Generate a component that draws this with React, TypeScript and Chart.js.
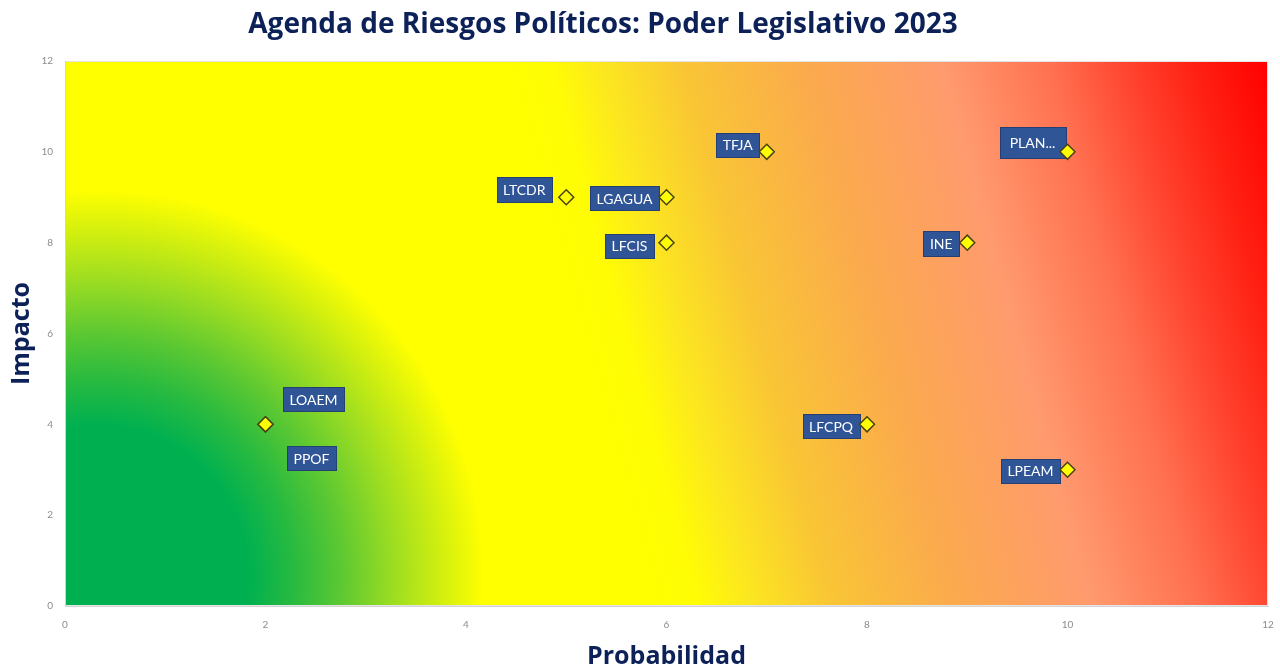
import React, { useEffect, useRef } from "react";
import { Chart, registerables } from "chart.js";

Chart.register(...registerables);

// ---- Data ----
const pointLabels = ["LOAEM", "PPOF", "LTCDR", "LGAGUA", "LFCIS", "TFJA", "PLAN...", "INE", "LFCPQ", "LPEAM"];
const probabilidad = [2, 2, 5, 6, 6, 7, 10, 9, 8, 10];
const impacto = [4, 4, 9, 9, 8, 10, 10, 8, 4, 3];
const xTickValues = [0, 2, 4, 6, 8, 10, 12];
const yTickValues = [0, 2, 4, 6, 8, 10, 12];

const chartTitle = "Agenda de Riesgos Políticos: Poder Legislativo 2023";
const xTitle = "Probabilidad";
const yTitle = "Impacto";

// label box placement (box centre offset from the point, in px) and box height
const labelOffsets: [number, number, number][] = [
  [48, -25, 24],
  [46, 34, 24],
  [-42, -8, 25],
  [-42, 1, 24],
  [-37, 3, 24],
  [-29, -7, 24],
  [-35, -9, 31],
  [-26, 1, 25],
  [-36, 2, 24],
  [-37, 1, 24],
];

const NAVY = "#0d2159";

const backgroundPlugin = {
  id: "riskBackground",
  beforeDraw(chart: any) {
    const { ctx, chartArea } = chart;
    const { left, top, right, bottom } = chartArea;
    const w = right - left;
    const h = bottom - top;
    ctx.save();
    // linear yellow -> red along a slightly rising direction
    const dx = 0.964, dy = -0.265;
    const p0 = 470, p1 = 1206;
    const lg = ctx.createLinearGradient(dx * p0, dy * p0, dx * p1, dy * p1);
    lg.addColorStop(0, "#FFFF00");
    lg.addColorStop(0.06, "#FFFC05");
    lg.addColorStop(0.13, "#FCE620");
    lg.addColorStop(0.234, "#F9C535");
    lg.addColorStop(0.394, "#FBAA4D");
    lg.addColorStop(0.575, "#FF9A6E");
    lg.addColorStop(0.716, "#FF7050");
    lg.addColorStop(0.811, "#FF4530");
    lg.addColorStop(0.905, "#FF2012");
    lg.addColorStop(1, "#FF0000");
    ctx.fillStyle = lg;
    ctx.fillRect(left, top, w, h);

    // radial green zone near the origin
    const xs = chart.scales.x;
    const ys = chart.scales.y;
    const cx = xs.getPixelForValue(0.33);
    const cy = ys.getPixelForValue(0.66);
    const r = xs.getPixelForValue(3.91) - xs.getPixelForValue(0);
    const rg = ctx.createRadialGradient(cx, cy, 0, cx, cy, r);
    rg.addColorStop(0, "#00B050");
    rg.addColorStop(0.385, "#00B050");
    rg.addColorStop(0.5, "#28BA40");
    rg.addColorStop(0.62, "#5CC832");
    rg.addColorStop(0.75, "#9ADC22");
    rg.addColorStop(0.87, "#CFEE10");
    rg.addColorStop(0.985, "#FFFF00");
    rg.addColorStop(1, "rgba(255,255,0,0)");
    ctx.fillStyle = rg;
    ctx.fillRect(left, top, w, h);

    ctx.strokeStyle = "#e4e4e4";
    ctx.lineWidth = 1;
    ctx.strokeRect(left + 0.5, top + 0.5, w - 1, h - 1);
    ctx.restore();
  },
  afterDraw(chart: any) {
    const { ctx } = chart;
    ctx.save();
    ctx.font = "bold 28px 'Open Sans'";
    ctx.fillStyle = NAVY;
    ctx.textAlign = "center";
    ctx.textBaseline = "middle";
    ctx.fillText(chartTitle, 603, 25);
    ctx.restore();
  },
};

const labelPlugin = {
  id: "boxLabels",
  beforeDatasetsDraw(chart: any) {
    const { ctx } = chart;
    const meta = chart.getDatasetMeta(0);
    ctx.save();
    ctx.font = "14px Lato";
    ctx.textAlign = "center";
    ctx.textBaseline = "middle";
    meta.data.forEach((pt: any, i: number) => {
      const [ox, oy, bh] = labelOffsets[i];
      const text = pointLabels[i];
      const tw = ctx.measureText(text).width;
      const bw = Math.round(tw + (bh > 28 ? 20 : 13));
      const cx = pt.x + ox;
      const cy = pt.y + oy;
      const bx = Math.round(cx - bw / 2) + 0.5;
      const by = Math.round(cy - bh / 2) + 0.5;
      ctx.fillStyle = "#2F5597";
      ctx.fillRect(bx, by, bw, bh);
      ctx.strokeStyle = "#243f73";
      ctx.lineWidth = 1;
      ctx.strokeRect(bx, by, bw, bh);
      ctx.fillStyle = "#ffffff";
      ctx.fillText(text, cx, cy + 1);
    });
    ctx.restore();
  },
};

export default function App() {
  const canvasRef = useRef<HTMLCanvasElement | null>(null);

  useEffect(() => {
    document.body.style.margin = "0";
    const canvas = canvasRef.current;
    if (!canvas) return;
    const chart = new Chart(canvas, {
      type: "scatter",
      data: {
        datasets: [
          {
            label: "Riesgos",
            data: probabilidad.map((x, i) => ({ x, y: impacto[i] })),
            pointStyle: "rectRot",
            pointRadius: 7.5,
            pointHoverRadius: 7.5,
            pointBackgroundColor: "#FFFF00",
            pointBorderColor: "#4a4212",
            pointBorderWidth: 1.5,
          },
        ],
      },
      options: {
        responsive: false,
        animation: false,
        devicePixelRatio: 1,
        layout: { padding: { top: 61, right: 12, left: 0, bottom: 0 } },
        plugins: {
          legend: { display: false },
          title: { display: false },
          tooltip: { enabled: false },
        },
        scales: {
          x: {
            type: "linear",
            min: 0,
            max: 12,
            afterBuildTicks: (s: any) => {
              s.ticks = xTickValues.map((v) => ({ value: v }));
            },
            afterFit: (s: any) => {
              s.height = 66;
            },
            grid: { display: false, drawTicks: true, tickLength: 13 },
            border: { display: true, color: "#d4d4d4", width: 1 },
            ticks: {
              color: "#8c8c8c",
              font: { family: "Lato", size: 10 },
              padding: 0,
              maxRotation: 0,
            },
            title: {
              display: true,
              text: xTitle,
              color: NAVY,
              font: { family: "'Open Sans'", size: 25, weight: "bold" },
              padding: { top: 0, bottom: 0 },
            },
          },
          y: {
            type: "linear",
            min: 0,
            max: 12,
            afterBuildTicks: (s: any) => {
              s.ticks = yTickValues.map((v) => ({ value: v }));
            },
            afterFit: (s: any) => {
              s.width = 65;
            },
            grid: { display: false, drawTicks: true, tickLength: 12 },
            border: { display: true, color: "#d4d4d4", width: 1 },
            ticks: {
              color: "#8c8c8c",
              font: { family: "Lato", size: 10 },
              padding: 0,
            },
            title: {
              display: true,
              text: yTitle,
              color: NAVY,
              font: { family: "'Open Sans'", size: 25, weight: "bold" },
              padding: { top: 7, bottom: 0 },
            },
          },
        },
      },
      plugins: [backgroundPlugin, labelPlugin],
    });
    return () => chart.destroy();
  }, []);

  return (
    <div style={{ position: "fixed", left: 0, top: 0, width: 1280, height: 672, background: "#ffffff" }}>
      <canvas ref={canvasRef} width={1280} height={672} />
    </div>
  );
}
